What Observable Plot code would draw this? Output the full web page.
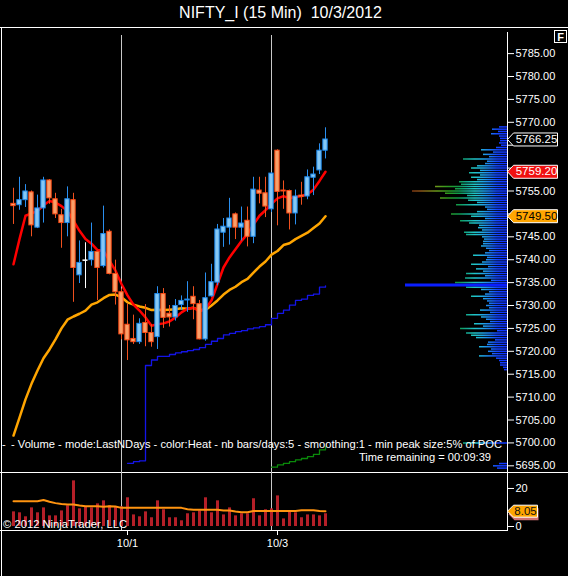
<!DOCTYPE html>
<html>
<head>
<meta charset="utf-8">
<script src="https://cdn.jsdelivr.net/npm/d3@7"></script>
<script src="https://cdn.jsdelivr.net/npm/@observablehq/plot@0.6"></script>
<style>
html,body{margin:0;padding:0;background:#000;}
#root{position:relative;width:568px;height:576px;background:#000;overflow:hidden;font-family:"Liberation Sans",Arial,Helvetica,sans-serif;color:#fff;}
#root .layer{position:absolute;left:0;}
#title{position:absolute;left:0;top:4px;width:561px;text-align:center;font-size:16px;line-height:18px;white-space:pre;color:#fff;}
</style>
</head>
<body>
<div id="root"><div id="title">NIFTY_I (15 Min)  10/3/2012</div></div>
<script>
// ---------------- DATA ----------------
const opens  = [5752.2,5751.9,5753.0,5754.7,5747.0,5751.2,5757.3,5753.2,5749.7,5748.0,
                5753.0,5736.6,5739.9,5739.9,5741.7,5738.6,5746.1,5736.9,5732.9,5725.8,
                5722.7,5722.0,5726.2,5724.0,5723.1,5732.5,5728.2,5727.4,5730.1,5731.1,
                5731.9,5730.3,5722.6,5732.0,5735.0,5745.9,5747.0,5749.9,5747.0,5748.5,
                5745.0,5755.1,5754.5,5751.0,5763.8,5755.1,5755.0,5750.1,5754.0,5753.8,
                5757.9,5759.5,5763.8];
const highs  = [5755.6,5758.0,5756.4,5755.0,5754.1,5758.0,5757.5,5754.5,5751.0,5755.9,
                5754.5,5744.1,5743.7,5748.0,5741.9,5751.7,5746.5,5739.9,5733.6,5730.3,
                5727.9,5727.1,5730.2,5725.8,5734.1,5733.7,5730.0,5731.3,5732.1,5735.2,
                5734.1,5731.1,5737.1,5739.0,5747.7,5749.0,5753.4,5750.2,5751.5,5751.5,
                5758.0,5758.0,5758.0,5759.0,5764.0,5757.2,5755.2,5755.2,5756.9,5759.6,
                5760.2,5765.3,5768.8];
const lows   = [5747.7,5750.8,5751.4,5745.0,5746.8,5748.0,5752.1,5749.0,5742.5,5745.0,
                5730.7,5734.8,5733.7,5738.6,5731.1,5738.2,5736.7,5730.1,5722.5,5718.0,
                5721.5,5721.5,5721.0,5720.9,5720.4,5725.0,5725.3,5726.6,5728.9,5728.5,
                5726.9,5722.5,5722.2,5731.8,5734.3,5742.7,5743.2,5744.4,5744.1,5742.8,
                5743.5,5752.2,5749.2,5750.3,5747.4,5751.0,5746.5,5747.6,5751.9,5753.1,
                5754.0,5758.6,5762.0];
const closes = [5751.7,5753.0,5754.9,5747.5,5751.2,5757.3,5753.4,5749.9,5748.0,5753.2,
                5738.2,5739.3,5739.9,5741.7,5738.2,5745.6,5736.9,5732.9,5723.7,5722.4,
                5722.0,5726.0,5724.0,5722.0,5732.5,5727.3,5727.4,5729.9,5731.0,5731.3,
                5730.3,5722.6,5731.6,5735.1,5746.6,5747.2,5749.0,5747.0,5747.9,5745.0,
                5755.3,5754.4,5751.6,5758.8,5754.8,5754.9,5750.1,5753.8,5753.7,5758.0,
                5758.6,5763.8,5766.25];
const fastMA = [5739.0,5744.5,5749.6,5750.1,5750.6,5751.9,5752.8,5752.5,5751.7,5750.6,
                5748.5,5746.3,5744.5,5743.5,5742.1,5741.9,5739.8,5737.6,5734.7,5732.2,
                5730.2,5728.9,5727.4,5725.6,5725.9,5726.1,5726.5,5727.4,5728.5,5729.3,
                5729.5,5728.7,5729.3,5731.1,5734.7,5738.3,5740.5,5742.3,5744.1,5745.6,
                5747.7,5749.6,5750.8,5752.2,5753.4,5753.9,5753.4,5753.7,5753.9,5754.3,
                5755.3,5757.2,5759.2];
const slowMA = [5701.6,5705.5,5709.5,5712.9,5715.8,5718.5,5720.4,5722.6,5725.0,5726.9,
                5727.6,5728.2,5728.9,5730.2,5730.7,5731.6,5732.3,5732.4,5731.8,5730.7,
                5730.2,5729.8,5729.5,5729.0,5729.1,5729.0,5729.1,5729.2,5729.4,5729.3,
                5729.5,5729.0,5729.0,5730.0,5731.1,5732.4,5733.4,5734.1,5735.1,5735.8,
                5737.2,5738.5,5739.6,5741.1,5741.9,5743.2,5743.6,5744.5,5745.2,5745.9,
                5746.9,5747.9,5749.5];
// step indicators (bar index + value)
const blueStart = 19;
const blueStep = [5695.55,5695.9,5696.1,5716.9,5718.1,5718.9,5718.9,5719.3,5719.65,5719.9,
                  5720.15,5720.4,5720.8,5721.5,5722.2,5722.8,5723.6,5723.9,5724.3,5724.5,
                  5724.9,5725.1,5725.4,5725.8,5727.2,5728.3,5729.0,5730.1,5731.1,5731.4,
                  5732.2,5732.5,5734.0,5734.3];
const greenStart = 43;
const greenStep = [5694.7,5695.2,5695.55,5695.9,5696.3,5696.6,5697.0,5697.5,5698.5,5699.2];
const volumes = [7.7,7.2,5.1,9.8,7.2,9.8,5.6,5.6,8.2,10.9,
                 24.0,9.3,10.4,9.8,11.9,13.5,10.9,10.4,10.4,15.1,
                 6.1,5.1,7.7,4.6,13.5,8.8,4.6,4.6,3.0,6.7,
                 7.2,8.2,15.1,7.2,13.5,6.1,9.8,5.6,6.7,6.7,
                 14.6,5.6,8.8,9.3,16.1,4.0,8.2,7.2,4.6,6.1,
                 6.1,5.6,6.7];
const volumeMA = [13.3,13.3,13.3,13.3,13.3,13.9,13.0,12.3,11.8,11.6,
                  11.6,11.1,10.7,10.7,10.7,10.4,10.7,10.5,9.8,9.8,
                  9.8,9.8,9.8,9.8,9.8,9.8,9.8,9.8,9.8,9.1,
                  8.8,8.8,8.8,8.8,8.8,8.4,8.4,7.9,7.5,7.5,
                  8.1,8.1,8.1,8.1,8.1,8.2,8.2,8.2,8.6,8.6,
                  8.6,8.2,8.05];
// volume profile (price level, volume)
const profilePrices = [5769.0,5768.5,5768.0,5767.5,5767.0,5766.5,5766.0,5765.5,5765.0,5764.5,
  5764.0,5763.5,5763.0,5762.5,5762.0,5761.5,5761.0,5760.5,5760.0,5759.5,
  5759.0,5758.5,5758.0,5757.5,5757.0,5756.5,5756.0,5755.5,5755.0,5754.5,
  5754.0,5753.5,5753.0,5752.5,5752.0,5751.5,5751.0,5750.5,5750.0,5749.5,
  5749.0,5748.5,5748.0,5747.5,5747.0,5746.5,5746.0,5745.5,5745.0,5744.5,
  5744.0,5743.5,5743.0,5742.5,5742.0,5741.5,5741.0,5740.5,5740.0,5739.5,
  5739.0,5738.5,5738.0,5737.5,5737.0,5736.5,5736.0,5735.5,5735.0,5734.5,
  5734.0,5733.5,5733.0,5732.5,5732.0,5731.5,5731.0,5730.5,5730.0,5729.5,
  5729.0,5728.5,5728.0,5727.5,5727.0,5726.5,5726.0,5725.5,5725.0,5724.5,
  5724.0,5723.5,5723.0,5722.5,5722.0,5721.5,5721.0,5720.5,5720.0,5719.5,
  5719.0,5718.5,5718.0,5717.5,5717.0,5716.5,5716.0,5700.0,5695.5,5695.0,5694.5];
const profileVols = [8,15,9,16,8,7,7,8,6,11,
  26,14,24,18,44,20,22,30,36,27,
  38,27,36,30,48,46,72,52,95,62,
  40,67,39,30,51,22,20,30,56,36,
  22,47,38,28,29,25,43,41,25,23,
  24,24,26,21,18,22,34,20,21,25,
  36,19,31,24,41,22,42,16,52,102,
  41,26,18,22,36,24,20,18,21,18,
  27,17,41,26,21,17,33,24,47,10,
  41,36,31,12,19,20,28,16,19,15,
  28,11,8,7,7,4,3,44,8,14,10];
const priceTicks = [5695,5700,5705,5710,5715,5720,5725,5730,5735,5740,5745,5750,5755,5760,5765,5770,5775,5780,5785];
const hiddenTickLabels = [5750, 5760, 5765];   // covered by the price markers in the reference
const volTicks = [0, 20];
const sessionStarts = [18, 43];
const dateTickIdx = [19, 44];
const dateTickLabels = ["10/1", "10/3"];
const priceTagValues = [5766.25, 5759.20, 5749.50];
const priceTagFills = ["#000000", "#f01010", "#ffa500"];
const priceTagInks = ["#ffffff", "#ffffff", "#000000"];
const volTagValue = 8.05;
const annotation = "- Volume - mode:LastNDays - color:Heat - nb bars/days:5 - smoothing:1 - min peak size:5% of POC";
const timeRemaining = "Time remaining = 00:09:39";
const copyright = "\u00a9 2012 NinjaTrader, LLC";

// ---------------- BUILD ----------------
const FONT = '"Liberation Sans", Arial, sans-serif';
const root = document.getElementById("root");
const X_DOMAIN = [-11/6, 494/6];
const Y_DOMAIN = [5693.54, 5790.7];

const candles = opens.map((o, i) => ({i, o, h: highs[i], l: lows[i], c: closes[i]}));
const kind = d => d.c > d.o ? "up" : (d.c < d.o ? "down" : "doji");
const bodyFill = {up: "#86c8f4", down: "#f9a06a", doji: "#ffffff"};
const bodyStroke = {up: "#1e8cf0", down: "#ff4c16", doji: "#ffffff"};
const wickColor = {up: "#2a8ff0", down: "#f0501e", doji: "#ffffff"};
const ma = fastMA.map((f, i) => ({i, fast: f, slow: slowMA[i]}));
const blueSeries = blueStep.map((v, k) => ({i: blueStart + k, v}));
const greenSeries = greenStep.map((v, k) => ({i: greenStart + k, v}));
const volRows = volumes.map((v, i) => ({i, v, ma: volumeMA[i]}));
const profileRows = profilePrices.map((p, k) => ({p, v: profileVols[k]}));
const pocVol = d3.max(profileVols);
const priceTags = priceTagValues.map((value, k) => ({value, fill: priceTagFills[k], ink: priceTagInks[k]}));

function tagSymbol(half, neck, hh) {
  return {draw(ctx) {
    ctx.moveTo(-half, 0); ctx.lineTo(-neck, -hh); ctx.lineTo(half, -hh);
    ctx.lineTo(half, hh); ctx.lineTo(-neck, hh); ctx.closePath();
  }};
}
function place(svg, top) {
  svg.classList.add("layer");
  svg.style.top = top + "px";
  svg.style.left = "0px";
  root.appendChild(svg);
  return svg;
}
const baseStyle = {background: "transparent", color: "#fff", fontFamily: FONT, fontSize: "11px", overflow: "visible"};

// chrome (panel borders)
const chrome = d3.create("svg").attr("width", 568).attr("height", 576);
const L = (x1, y1, x2, y2) => chrome.append("line").attr("x1", x1).attr("y1", y1).attr("x2", x2).attr("y2", y2).attr("stroke", "#fff").attr("stroke-width", 1);
L(0, 27.5, 568, 27.5);
L(1.5, 27, 1.5, 576);
L(0, 472.5, 568, 472.5);
L(0, 530.5, 507, 530.5);
L(507.5, 32, 507.5, 531);
place(chrome.node(), 0);

// main price panel
const main = Plot.plot({
  width: 568, height: 445, marginLeft: 2, marginRight: 61, marginTop: 0, marginBottom: 0,
  style: baseStyle,
  x: {domain: X_DOMAIN, axis: null},
  y: {domain: Y_DOMAIN, axis: null, label: null},
  color: {type: "identity"},
  marks: [
    Plot.ruleX(sessionStarts, {x: d => d, stroke: "#c8c8c8", insetTop: 8}),
    Plot.line(blueSeries, {x: "i", y: "v", stroke: "#1414e8", strokeWidth: 1.3, curve: "step-after"}),
    Plot.line(greenSeries, {x: "i", y: "v", stroke: "#0a8a0a", strokeWidth: 1.3, curve: "step-after"}),
    Plot.line(ma, {x: "i", y: "slow", stroke: "#ffa500", strokeWidth: 2.5}),
    Plot.line(ma, {x: "i", y: "fast", stroke: "#ff0000", strokeWidth: 2.5}),
    Plot.ruleX(candles, {x: "i", y1: "l", y2: "h", stroke: d => wickColor[kind(d)], strokeWidth: 1}),
    Plot.rect(candles.filter(d => kind(d) !== "doji"), {
      x1: d => d.i - 0.36, x2: d => d.i + 0.36,
      y1: d => Math.min(d.o, d.c), y2: d => Math.max(d.o, d.c),
      fill: d => bodyFill[kind(d)], stroke: d => bodyStroke[kind(d)], strokeWidth: 1
    }),
    Plot.ruleY(candles.filter(d => kind(d) === "doji"), {y: "o", x1: d => d.i - 0.42, x2: d => d.i + 0.42, stroke: "#ffffff", strokeWidth: 1.5}),
    Plot.axisY({anchor: "right", ticks: priceTicks, tickFormat: d => hiddenTickLabels.includes(d) ? "" : d.toFixed(2), tickSize: 6, tickPadding: 2, fontSize: 11, label: null}),
    Plot.dot(priceTags, {y: "value", frameAnchor: "right", dx: 25, symbol: tagSymbol(25, 19, 6.5), r: 5, fill: "fill", stroke: "#ffffff", strokeWidth: 1}),
    Plot.text(priceTags, {y: "value", frameAnchor: "right", dx: 29, text: d => d.value.toFixed(2), fill: "ink", fontSize: 11.5, textAnchor: "middle"})
  ]
});
place(main, 27);

// volume profile overlay
const profile = Plot.plot({
  width: 568, height: 445, margin: 0,
  style: baseStyle,
  x: {domain: [0, 130], range: [507, 377], axis: null},
  y: {domain: Y_DOMAIN, axis: null},
  marks: [
    Plot.ruleY(profileRows.filter(d => d.v < pocVol), {y: "p", x1: () => 0, x2: "v", stroke: "url(#heatGrad)", strokeWidth: 1.5}),
    Plot.ruleY(profileRows.filter(d => d.v === pocVol), {y: "p", x1: () => 0, x2: "v", stroke: "#0a1eff", strokeWidth: 3})
  ]
});
{
  const defs = d3.select(profile).insert("defs", ":first-child");
  const g = defs.append("linearGradient").attr("id", "heatGrad").attr("gradientUnits", "userSpaceOnUse")
    .attr("x1", 507).attr("y1", 0).attr("x2", 377).attr("y2", 0);
  const stops = [[0, "#1030ff"], [0.08, "#1448ff"], [0.13, "#1a78f4"], [0.19, "#20a8e4"], [0.25, "#20c6c6"],
                 [0.31, "#14a890"], [0.37, "#109a50"], [0.45, "#2a9a20"], [0.54, "#6a9a1a"], [0.66, "#8a5418"],
                 [0.75, "#7a3010"], [1, "#7a3010"]];
  stops.forEach(([o, c]) => g.append("stop").attr("offset", o).attr("stop-color", c));
}
place(profile, 27);

// volume panel
const vol = Plot.plot({
  width: 568, height: 80, marginLeft: 2, marginRight: 61, marginTop: 0, marginBottom: 22,
  style: baseStyle,
  x: {domain: X_DOMAIN, axis: null},
  y: {domain: [-2.1, 28.4], axis: null, label: null},
  color: {type: "identity"},
  marks: [
    Plot.ruleX(sessionStarts, {x: d => d, stroke: "#c8c8c8"}),
    Plot.ruleX(volRows, {x: "i", y1: () => 0, y2: "v", stroke: "#b51f28", strokeWidth: 3}),
    Plot.line(volRows, {x: "i", y: "ma", stroke: "#ff9410", strokeWidth: 2}),
    Plot.axisY({anchor: "right", ticks: volTicks, tickSize: 6, tickPadding: 2, fontSize: 11, label: null}),
    Plot.axisX({anchor: "bottom", ticks: dateTickIdx, tickFormat: d => dateTickLabels[dateTickIdx.indexOf(d)], tickSize: 5, tickPadding: 4, fontSize: 11, label: null}),
    Plot.dot([{value: volTagValue}], {y: "value", frameAnchor: "right", dx: 16, dy: 3, symbol: tagSymbol(15, 9, 6), r: 5, fill: "#d07070", stroke: "none"}),
    Plot.dot([{value: volTagValue}], {y: "value", frameAnchor: "right", dx: 15, symbol: tagSymbol(15, 9, 6), r: 5, fill: "#ffa500", stroke: "#ffffff", strokeWidth: 1}),
    Plot.text([{value: volTagValue}], {y: "value", frameAnchor: "right", dx: 18, text: d => d.value.toFixed(2), fill: "#101010", fontSize: 11.5, textAnchor: "middle"})
  ]
});
place(vol, 472);

// text overlay
const ov = d3.create("svg").attr("width", 568).attr("height", 576).style("font-family", FONT);
ov.append("text").attr("x", 2).attr("y", 448).attr("font-size", 11).attr("fill", "#fff").text("-");
ov.append("text").attr("x", 11).attr("y", 448).attr("font-size", 11).attr("fill", "#fff")
  .attr("textLength", 491).attr("lengthAdjust", "spacingAndGlyphs").text(annotation);
ov.append("text").attr("x", 359).attr("y", 461).attr("font-size", 11).attr("fill", "#fff")
  .attr("textLength", 132).attr("lengthAdjust", "spacingAndGlyphs").text(timeRemaining);
ov.append("text").attr("x", 3).attr("y", 527.5).attr("font-size", 11.5).attr("fill", "#fff")
  .attr("textLength", 124).attr("lengthAdjust", "spacingAndGlyphs").text(copyright);
ov.append("rect").attr("x", 554.5).attr("y", 30.5).attr("width", 12).attr("height", 12).attr("fill", "#000").attr("stroke", "#fff");
ov.append("text").attr("x", 560.5).attr("y", 40.5).attr("font-size", 11).attr("font-weight", "bold").attr("fill", "#fff").attr("text-anchor", "middle").text("F");
place(ov.node(), 0);
</script>
</body>
</html>
